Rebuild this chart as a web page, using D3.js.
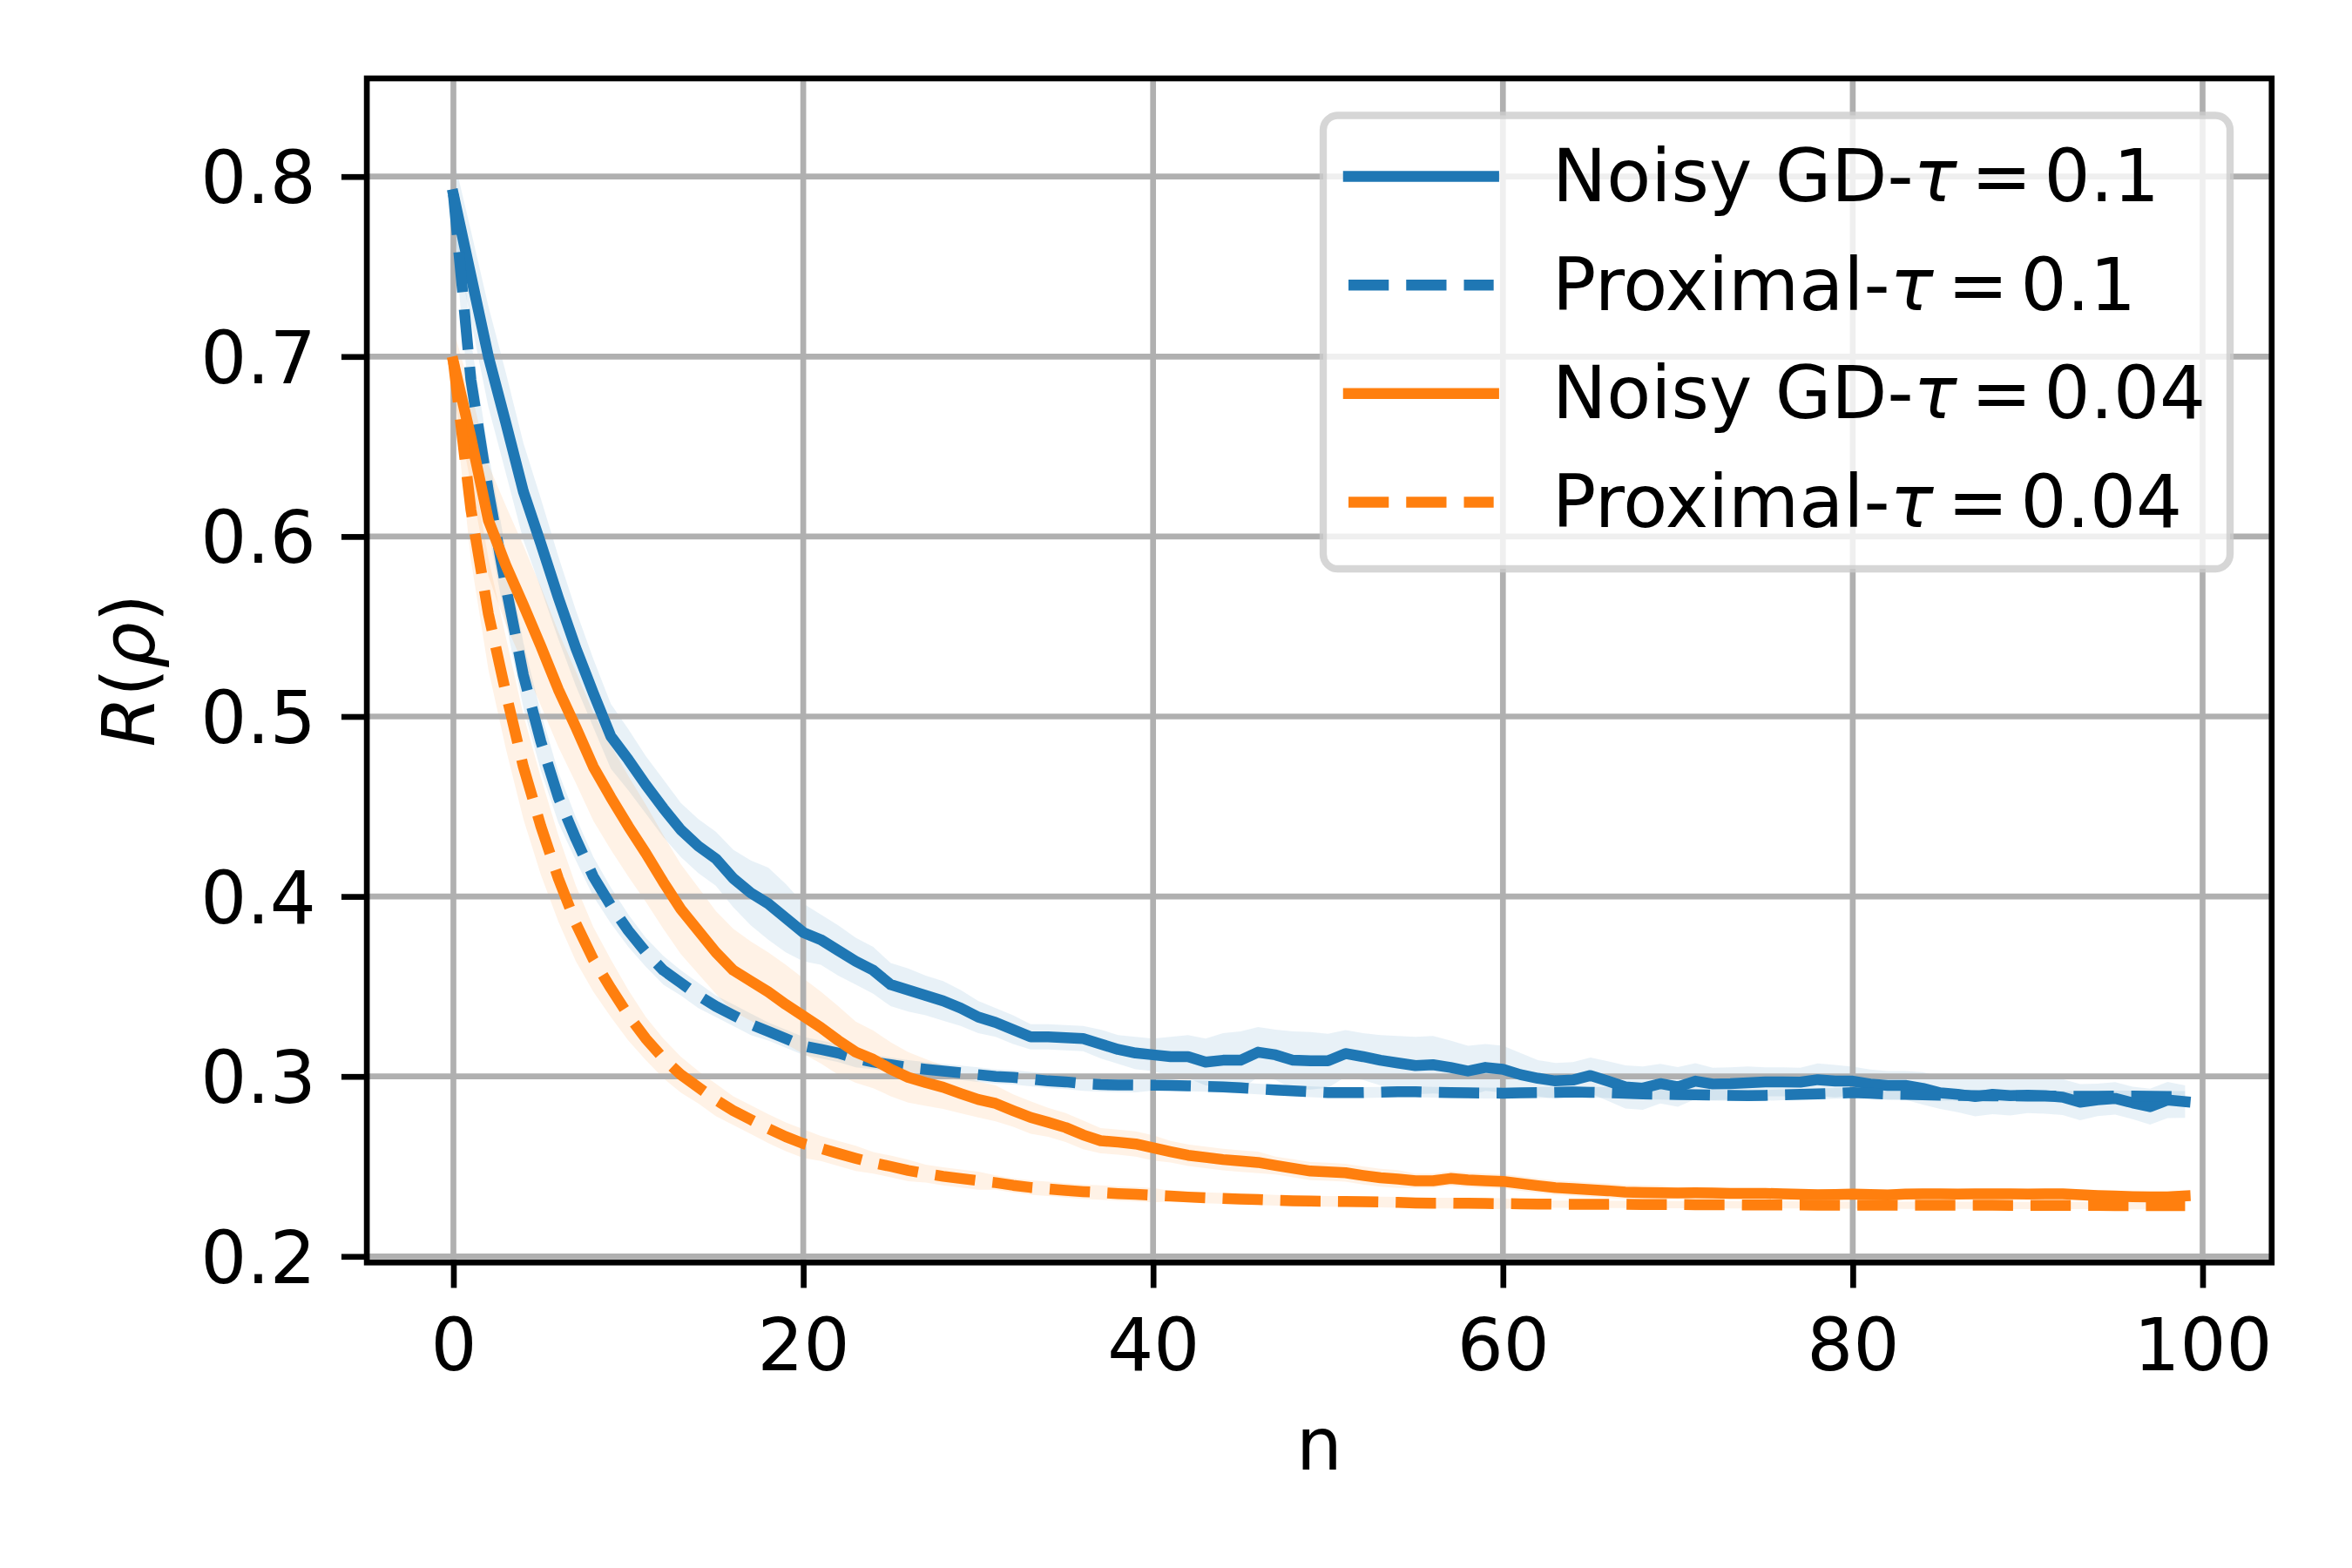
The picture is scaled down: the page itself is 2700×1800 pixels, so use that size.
<!DOCTYPE html>
<html>
<head>
<meta charset="utf-8">
<script src="https://cdn.jsdelivr.net/npm/d3@7"></script>
<style>
  body { margin: 0; background: #fff; }
  svg text { font-family: "DejaVu Sans", sans-serif; }
</style>
</head>
<body>
<script>
// mean curves (n = 0..99)
var noisyGd01 = [0.790,0.745,0.700,0.663,0.625,0.596,0.566,0.538,0.513,0.489,
  0.476,0.462,0.449,0.437,0.428,0.421,0.410,0.402,0.396,0.388,
  0.380,0.376,0.370,0.364,0.359,0.351,0.348,0.345,0.342,0.338,
  0.333,0.330,0.326,0.322,0.322,0.3215,0.321,0.318,0.315,0.313,
  0.312,0.311,0.311,0.308,0.309,0.309,0.3135,0.312,0.309,0.3087,
  0.3087,0.3127,0.311,0.309,0.3075,0.306,0.3065,0.305,0.303,0.305,
  0.304,0.301,0.299,0.2975,0.298,0.3005,0.2974,0.2942,0.2935,0.296,
  0.2942,0.2974,0.2958,0.296,0.2965,0.297,0.297,0.2968,0.2982,0.2974,
  0.2974,0.2958,0.295,0.295,0.2934,0.2909,0.2901,0.2888,0.2901,0.2893,
  0.2896,0.2893,0.2885,0.2857,0.287,0.2878,0.2853,0.2832,0.2869,0.286];

var prox01 = [0.790,0.687,0.625,0.572,0.523,0.486,0.455,0.432,0.411,0.395,
  0.381,0.369,0.359,0.352,0.345,0.339,0.334,0.329,0.325,0.321,
  0.317,0.315,0.313,0.310,0.308,0.3065,0.305,0.304,0.303,0.302,
  0.301,0.300,0.2995,0.2985,0.2975,0.297,0.296,0.2955,0.2953,0.2952,
  0.2951,0.295,0.2948,0.2945,0.2942,0.2937,0.293,0.2925,0.292,0.2915,
  0.291,0.291,0.291,0.2912,0.2915,0.2915,0.2912,0.291,0.2909,0.2908,
  0.2907,0.2909,0.291,0.2912,0.2914,0.2912,0.291,0.2906,0.2903,0.2901,
  0.2899,0.2898,0.2896,0.2894,0.2893,0.2895,0.2898,0.290,0.2903,0.2906,
  0.291,0.2906,0.2902,0.290,0.2898,0.2896,0.2894,0.2893,0.2892,0.2892,
  0.2891,0.2891,0.289,0.289,0.289,0.2891,0.2891,0.289,0.2889,0.2889];

var noisyGd004 = [0.697,0.655,0.609,0.584,0.562,0.539,0.515,0.494,0.472,0.455,
  0.439,0.424,0.408,0.393,0.381,0.369,0.359,0.353,0.347,0.340,
  0.3336,0.3272,0.320,0.3135,0.3095,0.304,0.2995,0.2966,0.294,0.2905,
  0.2872,0.285,0.281,0.2772,0.2745,0.2716,0.2675,0.2643,0.2635,0.2625,
  0.2603,0.2582,0.2562,0.255,0.2538,0.253,0.2522,0.2505,0.249,0.2474,
  0.247,0.2465,0.245,0.2437,0.243,0.242,0.242,0.2433,0.2425,0.242,
  0.2417,0.2405,0.2393,0.2382,0.2377,0.237,0.2365,0.2357,0.2355,0.2353,
  0.2352,0.2353,0.2352,0.235,0.235,0.235,0.2348,0.2345,0.2343,0.2344,
  0.2346,0.2344,0.2342,0.2346,0.2348,0.2347,0.2346,0.2347,0.2348,0.2347,
  0.2346,0.2347,0.2348,0.2343,0.2338,0.2335,0.2332,0.2331,0.2331,0.2336];

var prox004 = [0.697,0.615,0.557,0.513,0.472,0.439,0.410,0.385,0.365,0.349,
  0.334,0.321,0.310,0.301,0.294,0.287,0.281,0.276,0.271,0.2665,
  0.2627,0.260,0.2572,0.2545,0.252,0.250,0.2478,0.246,0.2445,0.2433,
  0.2421,0.241,0.2395,0.2383,0.2375,0.2367,0.236,0.2355,0.2349,0.2345,
  0.234,0.2335,0.233,0.2326,0.2322,0.2319,0.2316,0.2312,0.2309,0.2307,
  0.2306,0.2305,0.2304,0.2302,0.230,0.2297,0.2296,0.2296,0.2295,0.2294,
  0.2293,0.2292,0.2291,0.229,0.229,0.2289,0.2289,0.2289,0.2288,0.2288,
  0.2288,0.2287,0.2287,0.2287,0.2286,0.2286,0.2286,0.2286,0.2285,0.2285,
  0.2285,0.2285,0.2285,0.2284,0.2284,0.2284,0.2284,0.2284,0.2284,0.2283,
  0.2283,0.2283,0.2283,0.2283,0.2283,0.2282,0.2282,0.2282,0.2282,0.2282];

// half widths of the shaded bands
var stdNoisyGd01 = [0.021,0.025,0.028,0.028,0.027,0.025,0.023,0.021,0.019,0.018,
  0.017,0.016,0.016,0.015,0.015,0.015,0.016,0.018,0.020,0.019,
  0.016,0.014,0.014,0.013,0.013,0.012,0.012,0.011,0.011,0.010,
  0.009,0.008,0.008,0.007,0.007,0.007,0.007,0.008,0.008,0.009,
  0.009,0.011,0.012,0.013,0.015,0.016,0.014,0.014,0.016,0.016,
  0.015,0.013,0.013,0.014,0.015,0.016,0.016,0.015,0.014,0.013,
  0.013,0.012,0.010,0.010,0.010,0.010,0.011,0.012,0.012,0.011,
  0.011,0.010,0.009,0.009,0.009,0.008,0.008,0.008,0.009,0.009,
  0.008,0.008,0.008,0.008,0.009,0.009,0.010,0.011,0.011,0.011,
  0.010,0.010,0.010,0.010,0.009,0.009,0.009,0.010,0.010,0.009];

var stdProx01 = [0.020,0.022,0.022,0.020,0.018,0.016,0.014,0.012,0.011,0.010,
  0.009,0.008,0.008,0.007,0.007,0.006,0.006,0.006,0.005,0.005,
  0.005,0.005,0.005,0.005,0.004,0.004,0.004,0.004,0.004,0.004,
  0.004,0.004,0.004,0.004,0.004,0.004,0.004,0.004,0.004,0.004,
  0.003,0.003,0.003,0.003,0.003,0.003,0.003,0.003,0.003,0.003,
  0.003,0.003,0.003,0.003,0.003,0.003,0.003,0.003,0.003,0.003,
  0.003,0.003,0.003,0.003,0.003,0.003,0.003,0.003,0.003,0.003,
  0.003,0.003,0.003,0.003,0.003,0.003,0.003,0.003,0.003,0.003,
  0.003,0.003,0.003,0.003,0.003,0.003,0.003,0.003,0.003,0.003,
  0.003,0.003,0.003,0.003,0.003,0.003,0.003,0.003,0.003,0.003];

var stdNoisyGd004 = [0.018,0.026,0.031,0.033,0.033,0.033,0.032,0.031,0.030,0.029,
  0.028,0.027,0.026,0.025,0.024,0.023,0.023,0.022,0.022,0.022,
  0.021,0.020,0.019,0.017,0.016,0.015,0.014,0.013,0.012,0.011,
  0.010,0.010,0.009,0.009,0.008,0.008,0.008,0.007,0.007,0.007,
  0.007,0.006,0.006,0.006,0.006,0.006,0.006,0.005,0.005,0.005,
  0.005,0.005,0.005,0.005,0.005,0.004,0.004,0.004,0.004,0.004,
  0.004,0.004,0.004,0.004,0.004,0.004,0.004,0.004,0.004,0.004,
  0.003,0.003,0.003,0.003,0.003,0.003,0.003,0.003,0.003,0.003,
  0.003,0.003,0.003,0.003,0.003,0.003,0.003,0.003,0.003,0.003,
  0.003,0.003,0.003,0.003,0.003,0.003,0.003,0.003,0.003,0.003];

var stdProx004 = [0.018,0.028,0.031,0.031,0.029,0.027,0.024,0.021,0.018,0.016,
  0.014,0.012,0.011,0.010,0.009,0.009,0.008,0.008,0.008,0.008,
  0.008,0.007,0.007,0.007,0.006,0.006,0.006,0.005,0.005,0.005,
  0.005,0.004,0.004,0.004,0.004,0.004,0.004,0.004,0.004,0.004,
  0.004,0.003,0.003,0.003,0.003,0.003,0.003,0.003,0.003,0.003,
  0.003,0.003,0.003,0.003,0.003,0.003,0.003,0.003,0.003,0.003,
  0.003,0.002,0.002,0.002,0.002,0.002,0.002,0.002,0.002,0.002,
  0.002,0.002,0.002,0.002,0.002,0.002,0.002,0.002,0.002,0.002,
  0.002,0.002,0.002,0.002,0.002,0.002,0.002,0.002,0.002,0.002,
  0.002,0.002,0.002,0.002,0.002,0.002,0.002,0.002,0.002,0.002];

var xTicks = [0, 20, 40, 60, 80, 100],
    yTicks = [0.2, 0.3, 0.4, 0.5, 0.6, 0.7, 0.8],
    legendNames = ["Noisy GD-", "Proximal-", "Noisy GD-", "Proximal-"],
    legendTaus = ["0.1", "0.1", "0.04", "0.04"];

var pt = 600 / 72, fs = 10 * pt,
    blue = "#1f77b4", orange = "#ff7f0e",
    width = 2700, height = 1800,
    box = {left: 421.1, right: 2607.8, top: 90, bottom: 1449.3},
    x, y, svg, plot, line, area, series;

x = d3.scaleLinear().domain([-4.95, 103.95]).range([box.left, box.right]);
y = d3.scaleLinear().domain([0.19661, 0.85455]).range([box.bottom, box.top]);

series = [
  {mean: noisyGd01, std: stdNoisyGd01, color: blue, dash: null},
  {mean: prox01, std: stdProx01, color: blue, dash: "46.25,20"},
  {mean: noisyGd004, std: stdNoisyGd004, color: orange, dash: null},
  {mean: prox004, std: stdProx004, color: orange, dash: "46.25,20"}
];

svg = d3.select("body").append("svg").attr("width", width).attr("height", height);

svg.append("defs").append("clipPath").attr("id", "axclip")
  .append("rect")
  .attr("x", box.left).attr("y", box.top)
  .attr("width", box.right - box.left).attr("height", box.bottom - box.top);

plot = svg.append("g").attr("clip-path", "url(#axclip)");

area = function (s) {
  return d3.area()
    .x(function (d, i) { return x(i); })
    .y0(function (d, i) { return y(d - s.std[i]); })
    .y1(function (d, i) { return y(d + s.std[i]); });
};
line = d3.line().x(function (d, i) { return x(i); }).y(function (d) { return y(d); });

// bands under everything
series.forEach(function (s) {
  plot.append("path").attr("d", area(s)(s.mean))
    .attr("fill", s.color).attr("fill-opacity", 0.1);
});

// grid
plot.append("g").selectAll("line").data(xTicks).enter().append("line")
  .attr("x1", function (d) { return x(d); }).attr("x2", function (d) { return x(d); })
  .attr("y1", box.top).attr("y2", box.bottom)
  .attr("stroke", "#b0b0b0").attr("stroke-width", 0.8 * pt);
plot.append("g").selectAll("line").data(yTicks).enter().append("line")
  .attr("y1", function (d) { return y(d); }).attr("y2", function (d) { return y(d); })
  .attr("x1", box.left).attr("x2", box.right)
  .attr("stroke", "#b0b0b0").attr("stroke-width", 0.8 * pt);

series.forEach(function (s) {
  plot.append("path").attr("d", line(s.mean))
    .attr("fill", "none").attr("stroke", s.color)
    .attr("stroke-width", 1.5 * pt)
    .attr("stroke-linejoin", "round")
    .attr("stroke-linecap", s.dash ? "butt" : "square")
    .attr("stroke-dasharray", s.dash);
});

// axes
var xAxis = svg.append("g").attr("transform", "translate(0," + box.bottom + ")")
  .call(d3.axisBottom(x).tickValues(xTicks).tickSize(3.5 * pt).tickPadding(3.5 * pt).tickFormat(d3.format("d")));
var yAxis = svg.append("g").attr("transform", "translate(" + box.left + ",0)")
  .call(d3.axisLeft(y).tickValues(yTicks).tickSize(3.5 * pt).tickPadding(3.5 * pt).tickFormat(d3.format(".1f")));

[xAxis, yAxis].forEach(function (g) {
  g.select(".domain").remove();
  g.selectAll(".tick line").attr("stroke", "#000").attr("stroke-width", 0.8 * pt);
  g.selectAll(".tick text").attr("fill", "#000")
    .style("font-family", "'DejaVu Sans', sans-serif").style("font-size", fs + "px");
});
xAxis.selectAll(".tick text").attr("dy", "0.79em");
yAxis.selectAll(".tick text").attr("dy", "0.36em");

svg.append("rect")
  .attr("x", box.left).attr("y", box.top)
  .attr("width", box.right - box.left).attr("height", box.bottom - box.top)
  .attr("fill", "none").attr("stroke", "#000").attr("stroke-width", 0.8 * pt);

// axis labels
svg.append("text").attr("x", (box.left + box.right) / 2).attr("y", 1687)
  .attr("text-anchor", "middle").style("font-size", fs + "px").text("n");

var yl = svg.append("text")
  .attr("transform", "translate(177," + (box.top + box.bottom) / 2 + ") rotate(-90)")
  .attr("text-anchor", "middle").style("font-size", fs + "px");
yl.append("tspan").style("font-style", "italic").text("R");
yl.append("tspan").text("(");
yl.append("tspan").style("font-style", "italic").text("\u03c1");
yl.append("tspan").text(")");

// legend
var leg = svg.append("g");
leg.append("rect")
  .attr("x", 1519).attr("y", 132.5).attr("width", 1041).attr("height", 520.5)
  .attr("rx", 0.2 * fs).attr("ry", 0.2 * fs)
  .attr("fill", "#fff").attr("fill-opacity", 0.8)
  .attr("stroke", "#cccccc").attr("stroke-opacity", 0.8).attr("stroke-width", pt);

series.forEach(function (s, i) {
  var ry = 202.6 + i * 124.6, t;
  leg.append("line")
    .attr("x1", 1548).attr("x2", 1548 + 2 * fs).attr("y1", ry).attr("y2", ry)
    .attr("stroke", s.color).attr("stroke-width", 1.5 * pt)
    .attr("stroke-linecap", s.dash ? "butt" : "square")
    .attr("stroke-dasharray", s.dash);
  t = leg.append("text").attr("x", 1782).attr("y", ry + 28.5).style("font-size", fs + "px");
  t.append("tspan").text(legendNames[i]);
  t.append("tspan").style("font-style", "italic").text("\u03c4");
  t.append("tspan").attr("dx", 16).text("=");
  t.append("tspan").attr("dx", 14).text(legendTaus[i]);
});
</script>
</body>
</html>
